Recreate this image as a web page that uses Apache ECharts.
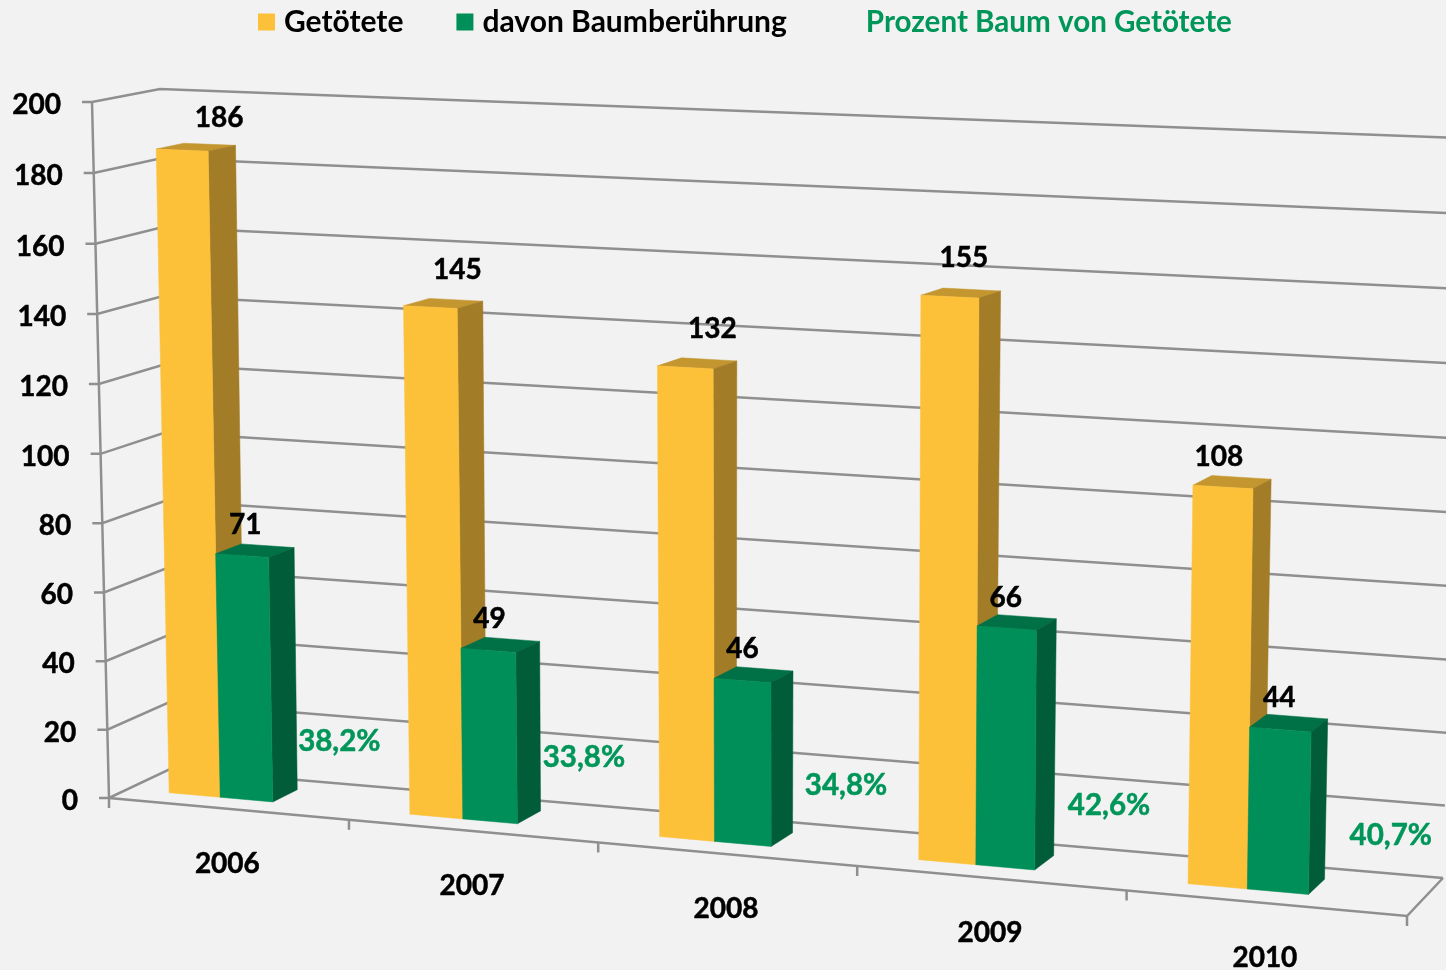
<!DOCTYPE html>
<html>
<head>
<meta charset="utf-8">
<title>Getötete und Baumberührung</title>
<script src="https://cdn.jsdelivr.net/npm/echarts@6/dist/echarts.min.js"></script>
<style>
html, body { margin: 0; padding: 0; background: #f2f2f2; }
#main { width: 1446px; height: 970px; }
</style>
</head>
<body>
<div id="main"></div>
<script>
var years = ['2006', '2007', '2008', '2009', '2010'];
var getoetete = [186, 145, 132, 155, 108];
var baum = [71, 49, 46, 66, 44];
var prozent = [38.2, 33.8, 34.8, 42.6, 40.7];
var yTicks = [0, 20, 40, 60, 80, 100, 120, 140, 160, 180, 200];

var FONT = 'Lato';
var GRID_COLOR = '#8f8f8f';
var GREEN_TEXT = '#009659';

// Ecken der 3D-Box im Bild (Wand vorn/hinten), je [unten links, unten rechts, oben rechts, oben links]
var frontQuad = [[109, 798], [1407, 916], [1420, 150], [92, 102]];
var backQuad = [[170, 769], [1443, 878], [1462, 138], [160, 89]];

// Quadrat -> Viereck (Heckbert)
function makeHomography(q) {
    var x0 = q[0][0], y0 = q[0][1], x1 = q[1][0], y1 = q[1][1];
    var x2 = q[2][0], y2 = q[2][1], x3 = q[3][0], y3 = q[3][1];
    var dx1 = x1 - x2, dx2 = x3 - x2, sx = x0 - x1 + x2 - x3;
    var dy1 = y1 - y2, dy2 = y3 - y2, sy = y0 - y1 + y2 - y3;
    var det = dx1 * dy2 - dx2 * dy1;
    var g = (sx * dy2 - dx2 * sy) / det;
    var h = (dx1 * sy - sx * dy1) / det;
    return function (u, v) {
        var w = g * u + h * v + 1;
        return [
            ((x1 - x0 + g * x1) * u + (x3 - x0 + h * x3) * v + x0) / w,
            ((y1 - y0 + g * y1) * u + (y3 - y0 + h * y3) * v + y0) / w
        ];
    };
}
var frontH = makeHomography(frontQuad);
var backH = makeHomography(backQuad);

// pt = Pixel aus dem (unsichtbaren) Grid, depth 0 = vorn, 1 = hinten
function project(pt, depth) {
    var u = pt[0] / 1446, v = 1 - pt[1] / 970;
    var a = frontH(u, v), b = backH(u, v);
    return [a[0] + (b[0] - a[0]) * depth, a[1] + (b[1] - a[1]) * depth];
}

function poly(points, color) {
    return { type: 'polygon', shape: { points: points }, style: { fill: color, stroke: color, lineWidth: 0.5 } };
}
function line(points, width) {
    return { type: 'polyline', shape: { points: points }, style: { fill: null, stroke: GRID_COLOR, lineWidth: width || 2.5 } };
}
function label(text, p, color, align, size) {
    return {
        type: 'text',
        style: {
            text: text, x: p[0], y: p[1], fill: color || '#000', align: align || 'center', verticalAlign: 'middle',
            stroke: color || '#000', lineWidth: 0.5,
            font: 'bold ' + (size || 28) + 'px ' + FONT
        }
    };
}

var DEPTH_FROM = 0.31, DEPTH_TO = 0.72;

// Beschriftungen sitzen im Original nicht systematisch, daher je Balken versetzt
var goldLabelNudge = [[37, -31], [27, -36], [27, -37], [14, -37], [-4, -28]];
var greenLabelNudge = [[3, -29], [1, -29], [0, -29], [-1, -28], [-1, -29]];
var pctNudge = [[3, -70], [0, -76], [5, -71], [1, -75], [5, -70]];

function barRenderer(from, to, faces, labelNudge) {
    return function (params, api) {
        var i = api.value(0), val = api.value(1);
        var base = api.coord([i, 0]), top = api.coord([i, val]);
        var band = api.size([1, 0])[0];
        var xa = base[0] + (from - 0.5) * band, xb = base[0] + (to - 0.5) * band;
        var fbl = project([xa, base[1]], DEPTH_FROM), fbr = project([xb, base[1]], DEPTH_FROM);
        var ftl = project([xa, top[1]], DEPTH_FROM), ftr = project([xb, top[1]], DEPTH_FROM);
        var bbr = project([xb, base[1]], DEPTH_TO);
        var btl = project([xa, top[1]], DEPTH_TO), btr = project([xb, top[1]], DEPTH_TO);
        var nudge = labelNudge[i];
        return {
            type: 'group',
            children: [
                poly([ftl, ftr, btr, btl], faces.top),
                poly([fbr, bbr, btr, ftr], faces.side),
                poly([fbl, fbr, ftr, ftl], faces.front),
                label(String(val), [(ftl[0] + ftr[0]) / 2 + nudge[0], ftl[1] + nudge[1]])
            ]
        };
    };
}

function pairs(values) {
    return values.map(function (v, i) { return [i, v]; });
}

var option = {
    backgroundColor: '#f2f2f2',
    animation: false,
    legend: {
        left: 258,
        top: 7,
        padding: 0,
        itemGap: 53,
        itemWidth: 17,
        itemHeight: 17,
        itemStyle: { borderWidth: 0 },
        textStyle: {
            fontFamily: FONT, fontWeight: 'bold', fontSize: 30, color: '#000',
            padding: [0, 0, 0, 4]
        },
        data: [
            { name: 'Getötete', icon: 'rect' },
            { name: 'davon Baumberührung', icon: 'rect' },
            { name: 'Prozent Baum von Getötete', icon: 'rect', itemStyle: { opacity: 0 }, textStyle: { color: GREEN_TEXT, fontSize: 29.6 } }
        ]
    },
    grid: { left: 0, right: 0, top: 0, bottom: 0, containLabel: false },
    xAxis: { type: 'category', data: years, show: false },
    yAxis: { type: 'value', min: 0, max: 200, interval: 20, show: false },
    series: [
        {
            name: 'raster',
            type: 'custom',
            silent: true,
            z: 1,
            data: yTicks.map(function (t) { return [0, t]; }),
            renderItem: function (params, api) {
                var t = api.value(1);
                var y = api.coord([0, t])[1];
                var f = project([0, y], 0), b = project([0, y], 1), r = project([1446, y], 1);
                return {
                    type: 'group',
                    children: [
                        line([[f[0] - 10, f[1]], f, b, r]),
                        label(String(t), [f[0] - 31, f[1] + 3], '#000', 'right')
                    ]
                };
            }
        },
        {
            name: 'achsen',
            type: 'custom',
            silent: true,
            z: 1,
            data: years.map(function (y, i) { return [i, 0]; }),
            renderItem: function (params, api) {
                var i = api.value(0);
                var c = api.coord([i, 0]);
                var band = api.size([1, 0])[0];
                var edge = project([c[0] + band / 2, c[1]], 0);
                var mid = project(c, 0);
                var kids = [
                    line([[edge[0], edge[1]], [edge[0], edge[1] + 10]]),
                    label(years[i], [mid[0] - 0.5, mid[1] + 55])
                ];
                if (i === 0) {
                    var fl0 = project([0, c[1]], 0), fl1 = project([0, 0], 0);
                    kids.push(line([fl1, fl0, [fl0[0], fl0[1] + 10]]));
                    var fr = project([1446, c[1]], 0), br = project([1446, c[1]], 1);
                    kids.push(line([fl0, fr, br]));
                }
                return { type: 'group', children: kids };
            }
        },
        {
            name: 'Getötete',
            type: 'custom',
            z: 2,
            itemStyle: { color: '#fcc139' },
            data: pairs(getoetete),
            renderItem: barRenderer(0.175, 0.39,
                { front: '#fcc139', side: '#a27c26', top: '#c49630' },
                goldLabelNudge)
        },
        {
            name: 'davon Baumberührung',
            type: 'custom',
            z: 3,
            itemStyle: { color: '#008f58' },
            data: pairs(baum),
            renderItem: barRenderer(0.39, 0.61,
                { front: '#008f58', side: '#005c39', top: '#007047' },
                greenLabelNudge)
        },
        {
            name: 'Prozent Baum von Getötete',
            type: 'custom',
            z: 4,
            itemStyle: { color: GREEN_TEXT },
            data: pairs(prozent),
            renderItem: function (params, api) {
                var i = api.value(0);
                var c = api.coord([i, 0]);
                var band = api.size([1, 0])[0];
                var p = project([c[0] + 0.4 * band, c[1]], 0.2);
                return label(api.value(1).toFixed(1).replace('.', ',') + '%', [p[0] + pctNudge[i][0], p[1] + pctNudge[i][1]], GREEN_TEXT, 'center', 29.5);
            }
        }
    ]
};

var chart = echarts.init(document.getElementById('main'));
chart.setOption(option);
</script>
</body>
</html>
